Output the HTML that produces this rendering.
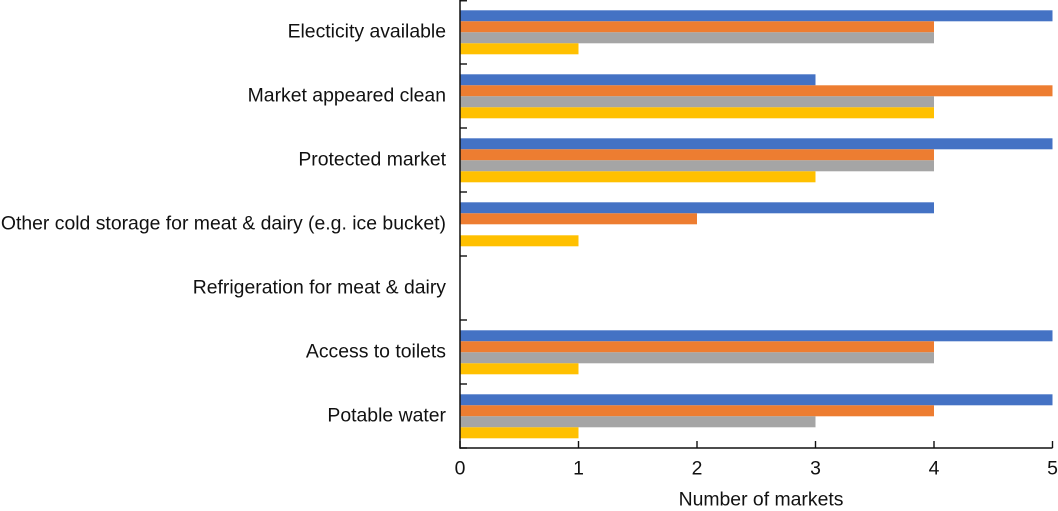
<!DOCTYPE html>
<html>
<head>
<meta charset="utf-8">
<style>
html,body{margin:0;padding:0;background:#fff;}
svg{display:block;}
text{font-family:"Liberation Sans",Arial,sans-serif;fill:#111;font-size:19.4px;}
</style>
</head>
<body>
<svg id="chart" width="1058" height="511" viewBox="0 0 1058 511" xmlns="http://www.w3.org/2000/svg"></svg>
<script>
const categories = ["Electicity available","Market appeared clean","Protected market","Other cold storage for meat & dairy (e.g. ice bucket)","Refrigeration for meat & dairy","Access to toilets","Potable water"];
const seriesA = [5,3,5,4,0,5,5];
const seriesB = [4,5,4,2,0,4,4];
const seriesC = [4,4,4,0,0,4,3];
const seriesD = [1,4,3,1,0,1,1];
const xTicks = [0,1,2,3,4,5];
const xTitle = "Number of markets";

const svg = document.getElementById('chart');
const NS = 'http://www.w3.org/2000/svg';
const series = [
  {name:'a', values:seriesA, color:'#4472c4'},
  {name:'b', values:seriesB, color:'#ed7d31'},
  {name:'c', values:seriesC, color:'#a5a5a5'},
  {name:'d', values:seriesD, color:'#ffc000'}
];
const left = 460, right = 1052.5, top_ = 0, bottom = 448;
const xMax = xTicks[xTicks.length - 1];
function x(v){ return left + (right - left) * v / xMax; }
function bandTop(i){ return top_ + (bottom - top_) * i / categories.length; }
const band = (bottom - top_) / categories.length;
const barH = 11, pad = (band - barH * series.length) / 2;

function add(tag, attrs, text){
  const el = document.createElementNS(NS, tag);
  for (const k in attrs) el.setAttribute(k, attrs[k]);
  if (text !== undefined) el.textContent = text;
  svg.appendChild(el);
  return el;
}

series.forEach(function(s, si){
  s.values.forEach(function(v, ci){
    if (v <= 0) return;
    const r = add('rect', {x:x(0), y:bandTop(ci) + pad + si * barH + 0.3, width:x(v) - x(0), height:barH, fill:s.color});
    
    
  });
});

categories.forEach(function(c, i){
  const t = add('text', {x:446, y:bandTop(i) + band / 2 + 5.5, 'text-anchor':'end'}, c);
  
  
});
for (let i = 0; i <= categories.length; i++){
  const l = add('line', {x1:left, x2:left + 7, y1:bandTop(i) + (i === 0 ? 0.75 : 0), y2:bandTop(i) + (i === 0 ? 0.75 : 0), stroke:'#111', 'stroke-width':1.4});
  
  
}
xTicks.forEach(function(v){
  const l = add('line', {x1:x(v), x2:x(v), y1:bottom, y2:bottom - 7, stroke:'#111', 'stroke-width':1.4});
  
  
  const t = add('text', {x:x(v), y:474.5, 'text-anchor':'middle'}, String(v));
  
  
});
const yAxis = add('line', {x1:left, x2:left, y1:0, y2:bottom + 0.7, stroke:'#111', 'stroke-width':1.5});


const xAxis = add('line', {x1:left, x2:right, y1:bottom, y2:bottom, stroke:'#111', 'stroke-width':1.5});


const title = add('text', {x:761, y:505.5, 'text-anchor':'middle'}, xTitle);


</script>
</body>
</html>
